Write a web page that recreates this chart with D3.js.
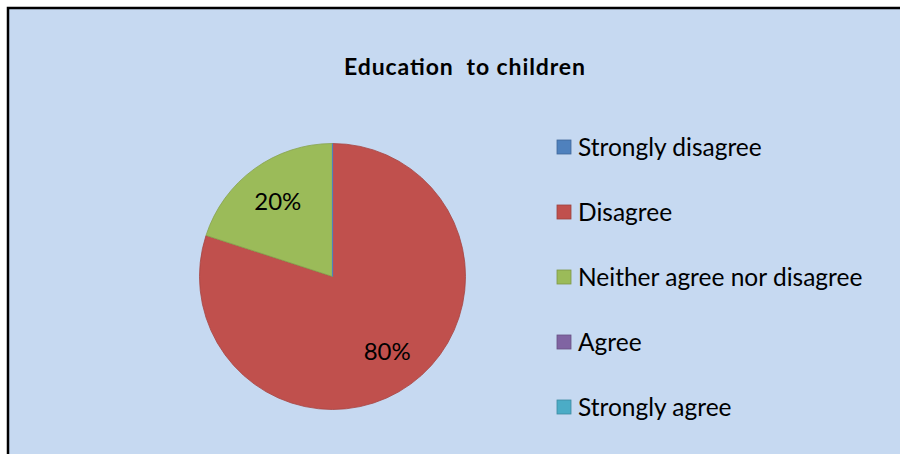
<!DOCTYPE html>
<html>
<head>
<meta charset="utf-8">
<script src="https://cdn.jsdelivr.net/npm/d3@7/dist/d3.min.js"></script>
<style>
  html, body { margin: 0; padding: 0; background: #ffffff; overflow: hidden; }
  svg { display: block; }
</style>
</head>
<body>
<div id="chart"></div>
<script>
// Chart data
const title = "Education  to children";
const categories = ["Strongly disagree", "Disagree", "Neither agree nor disagree", "Agree", "Strongly agree"];
const values = [0, 80, 20, 0, 0];
const colors = ["#4f81bd", "#c0504d", "#9bbb59", "#8064a2", "#4bacc6"];

const width = 901;
const height = 454;
const fontFamily = "Lato, 'Open Sans', sans-serif";

const svg = d3.select("#chart")
    .append("svg")
    .attr("width", width)
    .attr("height", height);

// chart area background, border only on left and top (rest is cropped)
svg.append("rect")
    .attr("x", 8)
    .attr("y", 8)
    .attr("width", width - 9)
    .attr("height", height)
    .attr("fill", "#c6d9f1");

svg.append("path")
    .attr("d", `M8,${height} L8,8 L${width - 1},8`)
    .attr("fill", "none")
    .attr("stroke", "#000")
    .attr("stroke-width", 2.5);

// title (double space kept as in the original)
svg.append("text")
    .attr("x", 464.5)
    .attr("y", 75)
    .attr("text-anchor", "middle")
    .attr("textLength", 241)
    .attr("lengthAdjust", "spacing")
    .style("white-space", "pre")
    .style("font-family", fontFamily)
    .style("font-weight", "bold")
    .style("font-size", "23px")
    .style("fill", "#000")
    .text(title);

// pie
const cx = 332.5, cy = 276.5, radius = 133;
const pie = d3.pie().sort(null).value(d => d)(values);
const arc = d3.arc().innerRadius(0).outerRadius(radius);

const g = svg.append("g").attr("transform", `translate(${cx},${cy})`);

g.selectAll("path.slice")
    .data(pie.filter(d => d.value > 0))
    .enter()
    .append("path")
    .attr("class", "slice")
    .attr("d", arc)
    .attr("fill", d => colors[d.index])
    .attr("stroke", d => d3.color(colors[d.index]).darker(0.4))
    .attr("stroke-width", 0.8);

// zero-valued slice shows up as a thin line (Excel style)
g.selectAll("line.zero")
    .data(pie.filter(d => d.value === 0 && d.index === 0))
    .enter()
    .append("line")
    .attr("class", "zero")
    .attr("x1", 0).attr("y1", 0)
    .attr("x2", d => radius * Math.sin(d.startAngle))
    .attr("y2", d => -radius * Math.cos(d.startAngle))
    .attr("stroke", d => colors[d.index])
    .attr("stroke-width", 1.2);

// percentage labels
const total = d3.sum(values);
const labelArc = d3.arc().innerRadius(radius * 0.70).outerRadius(radius * 0.70);
g.selectAll("text.pct")
    .data(pie.filter(d => d.value > 0))
    .enter()
    .append("text")
    .attr("class", "pct")
    .attr("transform", d => {
        const c = labelArc.centroid(d);
        return `translate(${c[0]},${c[1]})`;
    })
    .attr("text-anchor", "middle")
    .attr("dy", "0.35em")
    .style("font-family", fontFamily)
    .style("font-size", "24px")
    .style("fill", "#000")
    .text(d => Math.round(d.value / total * 100) + "%");

// legend
const legendY = d3.scalePoint()
    .domain(categories)
    .range([147, 407]);

const legend = svg.append("g")
    .selectAll("g")
    .data(categories)
    .enter()
    .append("g")
    .attr("transform", d => `translate(557,${legendY(d)})`);

legend.append("rect")
    .attr("x", 0)
    .attr("y", -7)
    .attr("width", 14)
    .attr("height", 14)
    .attr("fill", (d, i) => colors[i])
    .attr("stroke", (d, i) => d3.color(colors[i]).darker(0.6))
    .attr("stroke-width", 0.8);

legend.append("text")
    .attr("x", 21)
    .attr("y", 0)
    .attr("dy", "0.35em")
    .style("font-family", fontFamily)
    .style("font-size", "24.5px")
    .style("fill", "#000")
    .text(d => d);
</script>
</body>
</html>
